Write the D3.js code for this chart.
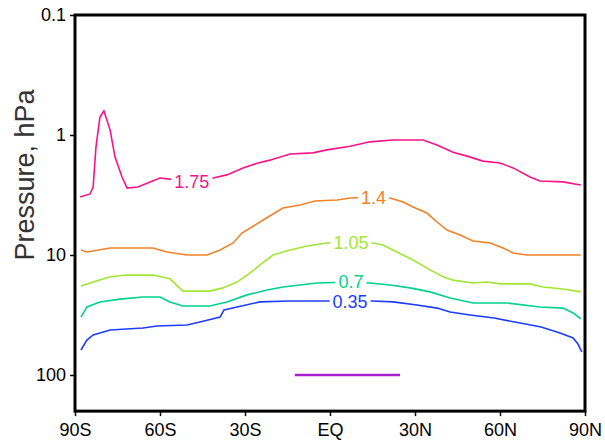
<!DOCTYPE html>
<html>
<head>
<meta charset="utf-8">
<script src="https://cdn.jsdelivr.net/npm/d3@7"></script>
<style>
  html, body { margin: 0; padding: 0; background: #fff; }
  svg { display: block; }
</style>
</head>
<body>
<svg id="chart" width="605" height="444"></svg>
<script>
// Zonal-mean contours on a latitude / log-pressure section.
// Each contour is a list of [latitude, pressure (hPa)] points.
const level175 = [[-88.2,3.29],[-84.7,3.10],[-83.6,2.71],[-82.6,1.26],[-81.2,0.71],[-79.8,0.63],[-77.6,0.91],[-75.9,1.52],[-73.4,2.24],[-71.6,2.77],[-67.8,2.71],[-63.5,2.46],[-60,2.28],[-56.5,2.33],[-48.8,2.42],[-41.3,2.28],[-36.4,2.15],[-30.7,1.88],[-25.4,1.71],[-21.2,1.62],[-14.1,1.44],[-6,1.41],[-1.1,1.33],[7.1,1.24],[14.1,1.14],[22.2,1.10],[32.8,1.10],[37.8,1.21],[43.4,1.39],[48.4,1.50],[54,1.65],[60,1.71],[64.6,1.88],[70.6,2.24],[74.1,2.42],[82.2,2.46],[88.5,2.61]];
const level140 = [[-87.9,9.08],[-85.8,9.44],[-77.6,8.74],[-62.5,8.74],[-57.5,9.44],[-50.5,10],[-43.4,10],[-38.8,9.08],[-34.2,7.94],[-31.1,6.56],[-24.7,5.31],[-23.6,5.11],[-16.6,4.06],[-10.6,3.83],[-5.3,3.55],[2.5,3.48],[7.1,3.35],[15.4,3.30],[21.2,3.35],[25.8,3.62],[29.3,3.98],[34.2,4.47],[37.8,5.31],[41.3,6.19],[45.9,6.81],[50.5,7.64],[56.5,7.94],[61.1,8.74],[64.6,9.62],[69.5,10],[88.5,10]];
const level105 = [[-87.9,18.1],[-83.6,16.8],[-77.6,15.2],[-71.6,14.7],[-62.5,14.7],[-56.5,15.8],[-51.9,20.0],[-42.4,20.0],[-37.8,18.8],[-32.8,16.8],[-28.2,14.1],[-24.7,12.1],[-20.1,10],[-14.1,9.08],[-8.1,8.41],[-1.1,7.94],[7.4,7.8],[15.2,7.94],[18.7,8.26],[23.6,9.44],[29.3,11.0],[35.3,13.3],[39.9,15.2],[43.4,16.2],[50.5,17.1],[55.4,16.8],[60,17.4],[70.6,17.4],[75.2,18.5],[82.2,19.2],[88.5,20.3]];
const level070 = [[-87.9,32.9],[-85.8,27.1],[-81.2,24.6],[-74.1,23.3],[-66,22.4],[-60,22.4],[-56.5,24.6],[-51.9,26.6],[-42.4,26.6],[-36.4,24.6],[-29.3,21.5],[-22.2,19.6],[-16.6,18.5],[-10.6,17.8],[-4.6,17.1],[7.4,16.8],[14.1,17.1],[21.2,17.8],[28.2,18.8],[35.3,20.3],[42.4,22.8],[50.5,25.1],[62.5,25.1],[74.1,27.1],[82.2,27.7],[85.8,30.4],[88.5,34.1]];
const level035 = [[-87.9,61.9],[-85.8,51.1],[-83.6,46.4],[-77.6,42.2],[-66,40.6],[-61.1,39.0],[-50.5,38.3],[-45.9,36.2],[-38.8,32.9],[-37.4,28.7],[-32.8,27.1],[-24.7,24.6],[-14.1,24.2],[-1.1,24.2],[7.1,24.2],[15.2,24.2],[22.2,24.6],[30.7,26.1],[37.8,27.7],[42.4,29.9],[49.4,31.6],[57.9,33.5],[67.1,36.9],[74.5,39.8],[81.2,44.7],[85.8,49.2],[87.5,55.2],[88.9,64.3]];

// Contour label text and the [latitude, pressure] where each label sits
const contourLabels = ["1.75", "1.4", "1.05", "0.7", "0.35"];
const labelSpots = [[-48.8, 2.42], [15.4, 3.30], [7.4, 7.8], [7.4, 16.6], [7.1, 24.2]];

// Horizontal marker segment at 100 hPa: [start lat, end lat, pressure]
const markerSegment = [-12.4, 24.7, 100];

// Axis ticks
const latTicks = [-90, -60, -30, 0, 30, 60, 90];
const latTickLabels = ["90S", "60S", "30S", "EQ", "30N", "60N", "90N"];
const pressureTicks = [0.1, 1, 10, 100];
const pressureTickLabels = ["0.1", "1", "10", "100"];

const contours = [level175, level140, level105, level070, level035];
const contourColors = ["rgb(245,20,135)", "rgb(240,130,40)", "rgb(160,230,50)", "rgb(0,210,140)", "rgb(30,60,255)"];

(function draw() {
  const plotLeft = 75, plotRight = 585, plotTop = 15;
  const pxPerDecade = 120;
  const plotBottom = plotTop + pxPerDecade * Math.log10(2000);

  const svg = d3.select("#chart");
  const font = "'Liberation Sans', Arial, sans-serif";

  const x = d3.scaleLinear().domain([-90, 90]).range([plotLeft, plotRight]);
  const y = d3.scaleLog().domain([0.1, 200]).range([plotTop, plotBottom]);

  const line = d3.line().x(d => x(d[0])).y(d => y(d[1]));

  // contour lines
  const lines = svg.append("g").attr("fill", "none").attr("stroke-width", 1.6);
  contours.forEach((c, i) => {
    lines.append("path").datum(c).attr("d", line).attr("stroke", contourColors[i]);
  });

  // contour labels with a small white gap behind them
  const labels = svg.append("g");
  contourLabels.forEach((t, i) => {
    const [lat, p] = labelSpots[i];
    const g = labels.append("g");
    const txt = g.append("text")
      .attr("x", x(lat)).attr("y", y(p)).attr("dy", "0.36em")
      .attr("text-anchor", "middle")
      .attr("font-family", font).attr("font-size", 18)
      .attr("fill", contourColors[i]).text(t);
    const bb = txt.node().getBBox();
    g.insert("rect", "text")
      .attr("x", bb.x - 3).attr("y", y(p) - 8)
      .attr("width", bb.width + 6).attr("height", 16)
      .attr("fill", "#fff");
  });

  // marker segment
  svg.append("line")
    .attr("x1", x(markerSegment[0])).attr("x2", x(markerSegment[1]))
    .attr("y1", y(markerSegment[2])).attr("y2", y(markerSegment[2]))
    .attr("stroke", "rgb(170,30,210)").attr("stroke-width", 2.4);

  // axes
  const xAxis = d3.axisBottom(x).tickValues(latTicks)
    .tickFormat((d, i) => latTickLabels[i]).tickSize(5).tickPadding(7);
  const yAxis = d3.axisLeft(y).tickValues(pressureTicks)
    .tickFormat((d, i) => pressureTickLabels[i]).tickSize(5).tickPadding(4);

  const gx = svg.append("g").attr("transform", `translate(0,${plotBottom})`).call(xAxis);
  const gy = svg.append("g").attr("transform", `translate(${plotLeft},0)`).call(yAxis);
  [gx, gy].forEach(g => {
    g.select(".domain").remove();
    g.selectAll(".tick line").attr("stroke", "#000").attr("stroke-width", 1.5);
    g.selectAll(".tick text").attr("font-family", font).attr("font-size", 18).attr("fill", "#000");
  });

  // frame
  svg.append("rect")
    .attr("x", plotLeft).attr("y", plotTop)
    .attr("width", plotRight - plotLeft).attr("height", plotBottom - plotTop)
    .attr("fill", "none").attr("stroke", "#000").attr("stroke-width", 3);

  // y-axis title
  svg.append("text")
    .attr("transform", `translate(34,${(88 + 262) / 2}) rotate(-90)`)
    .attr("text-anchor", "middle")
    .attr("font-family", font).attr("font-size", 27)
    .attr("fill", "#333").text("Pressure, hPa");
})();
</script>
</body>
</html>
